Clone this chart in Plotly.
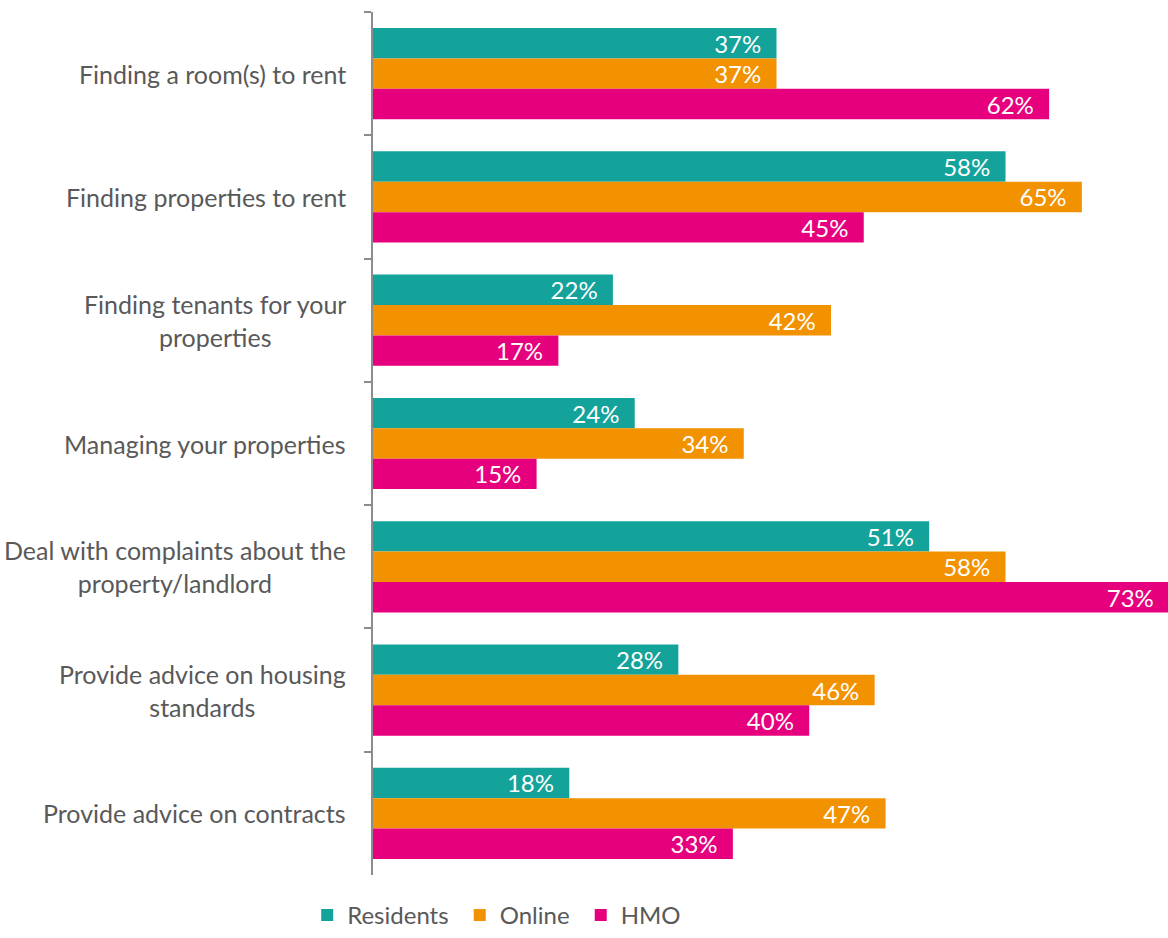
import plotly.graph_objects as go

categories = [
    "Finding a room(s) to rent",
    "Finding properties to rent",
    "Finding tenants for your<br>properties",
    "Managing your properties",
    "Deal with complaints about the<br>property/landlord",
    "Provide advice on housing<br>standards",
    "Provide advice on contracts",
]
residents = [37, 58, 22, 24, 51, 28, 18]
online = [37, 65, 42, 34, 58, 46, 47]
hmo = [62, 45, 17, 15, 73, 40, 33]

series = [
    ("Residents", residents, "#13A39B"),
    ("Online", online, "#F39200"),
    ("HMO", hmo, "#E6007E"),
]

FONT = "Lato, 'Open Sans', sans-serif"
GREY = "#595959"

fig = go.Figure()
for name, vals, color in series:
    fig.add_trace(go.Bar(
        name=name + "\u00a0",
        y=categories,
        x=vals,
        orientation="h",
        marker=dict(color=color, line=dict(width=0)),
        text=[f"{v}%\u00a0\u00a0" for v in vals],
        textposition="inside",
        insidetextanchor="end",
        textangle=0,
        constraintext="none",
        textfont=dict(family=FONT, size=24, color="white"),
        hoverinfo="skip",
    ))

# category labels, centred line by line
for cat in categories:
    fig.add_annotation(
        x=0, xref="paper", y=cat, yref="y",
        text=cat, showarrow=False,
        xanchor="right", yanchor="middle", align="center",
        xshift=-25,
        font=dict(family=FONT, size=25, color=GREY),
    )

fig.update_layout(
    width=1168, height=938,
    margin=dict(l=373, r=0, t=12, b=63),
    paper_bgcolor="white", plot_bgcolor="white",
    barmode="group",
    bargap=0.26,
    bargroupgap=0,
    font=dict(family=FONT, size=24, color=GREY),
    showlegend=True,
    legend=dict(
        orientation="h",
        xref="container", yref="container",
        x=0.263, xanchor="left",
        y=0.0, yanchor="bottom",
        font=dict(family=FONT, size=24, color=GREY),
        traceorder="normal",
    ),
    xaxis=dict(
        range=[0, 72.9],
        showgrid=False, zeroline=False,
        showticklabels=False, ticks="",
        showline=False,
    ),
    yaxis=dict(
        autorange="reversed",
        showticklabels=False,
        showgrid=False,
        showline=True, linecolor="#8C8C8C", linewidth=1.5,
        ticks="outside", ticklen=7, tickcolor="#8C8C8C", tickwidth=1.5,
        tickson="boundaries",
    ),
)

fig.write_html("out.html")
